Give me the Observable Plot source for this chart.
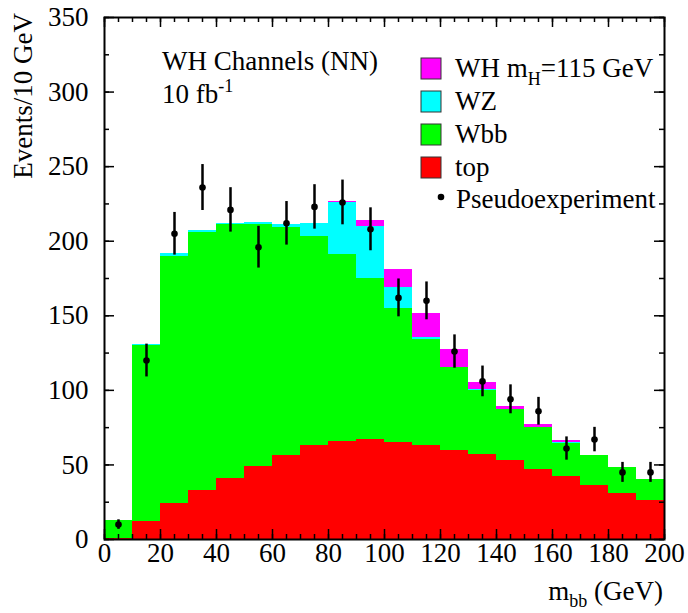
<!DOCTYPE html>
<html><head><meta charset="utf-8">
<script src="https://cdn.jsdelivr.net/npm/d3@7"></script>
<script src="https://cdn.jsdelivr.net/npm/@observablehq/plot@0.6"></script>
<style>
body{margin:0;background:#fff}
#chart{position:relative;width:688px;height:613px}
#chart svg text, #chart svg tspan{font-family:"Liberation Serif","Times New Roman",Times,serif !important;}
</style>
</head><body><div id="chart"></div>
<script>
// ---- data ----
const binLow = [0,10,20,30,40,50,60,70,80,90,100,110,120,130,140,150,160,170,180,190];
const binWidth = 10;
const topQuark = [1,12,24,33,41,49,56,63,66,67,65,63,60,57,53,47,42,36,31,26];
const wbb      = [12,118,166,173,170,162,153,140,125,108,90,71,55,43,34,28,22.5,20,17,14];
const wz       = [0,1,2,1.2,0.9,1.3,2.2,8.9,34.7,34.7,14,1.3,0.3,0.3,0.3,0.3,0.3,0,0,0];
const whSignal = [0,0,0,0,0.1,0,0,0.1,1.1,4.4,12.2,16,12,5,2,1.5,1.3,0.3,0,0];
const pseudo   = [10,120,205,236,221,196,212,223,226,208,162,160,126,106,94,86,61,67,45,45];
const pseudoErr= [3.2,11,14.3,15.4,14.9,14,14.6,14.9,15,14.4,12.7,12.7,11.2,10.3,9.7,9.3,7.8,8.2,6.7,6.7];
const components = ["top","Wbb","WZ","WH"];
const compColors = ["#ff0000","#00ff00","#00ffff","#ff00ff"];
const xTickLabels = [0,20,40,60,80,100,120,140,160,180,200];
const yTickLabels = [0,50,100,150,200,250,300,350];
const xMinor = [0,5,10,15,20,25,30,35,40,45,50,55,60,65,70,75,80,85,90,95,100,105,110,115,120,125,130,135,140,145,150,155,160,165,170,175,180,185,190,195,200];
const yMinor = [0,25,50,75,100,125,150,175,200,225,250,275,300,325,350];

// ---- build tables ----
const series = [topQuark, wbb, wz, whSignal];
const rows = binLow.flatMap((x, i) => components.map((c, j) => ({x1: x, x2: x + binWidth, comp: c, value: series[j][i]})));
const pts = binLow.map((x, i) => ({x: x + binWidth / 2, y: pseudo[i], e: pseudoErr[i]}));

const W = 688, H = 613;
const mL = 104, mR = 24, mT = 17, mB = 74;
const plotW = W - mL - mR, plotH = H - mT - mB;
const FONT = "'Liberation Serif', 'Times New Roman', Times, serif";

const svg = Plot.plot({
  width: W, height: H,
  marginLeft: mL, marginRight: mR, marginTop: mT, marginBottom: mB,
  style: {fontFamily: FONT, color: "black", background: "white"},
  x: {domain: [0, 200]},
  y: {domain: [0, 350]},
  color: {domain: components, range: compColors},
  marks: [
    Plot.rectY(rows, {x1: "x1", x2: "x2", y: "value", fill: "comp", order: components, shapeRendering: "crispEdges"}),
    Plot.ruleX(pts, {x: "x", y1: d => d.y - d.e, y2: d => d.y + d.e, stroke: "black", strokeWidth: 2.5}),
    Plot.dot(pts, {x: "x", y: "y", r: 3.3, fill: "black", stroke: null}),
    // inward ticks
    Plot.ruleX(xMinor, {insetTop: plotH - 5, stroke: "black", strokeWidth: 1.5}),
    Plot.ruleX(xTickLabels, {insetTop: plotH - 10, stroke: "black", strokeWidth: 1.5}),
    Plot.ruleX(xMinor, {insetBottom: plotH - 5, stroke: "black", strokeWidth: 1.5}),
    Plot.ruleX(xTickLabels, {insetBottom: plotH - 10, stroke: "black", strokeWidth: 1.5}),
    Plot.ruleY(yMinor, {insetRight: plotW - 5, stroke: "black", strokeWidth: 1.5}),
    Plot.ruleY(yTickLabels, {insetRight: plotW - 10, stroke: "black", strokeWidth: 1.5}),
    Plot.ruleY(yMinor, {insetLeft: plotW - 5, stroke: "black", strokeWidth: 1.5}),
    Plot.ruleY(yTickLabels, {insetLeft: plotW - 10, stroke: "black", strokeWidth: 1.5}),
    Plot.frame({stroke: "black", strokeWidth: 2}),
    Plot.axisX({ticks: xTickLabels, tickSize: 0, tickPadding: 3, fontSize: 27, label: null, tickFormat: d => String(d)}),
    Plot.axisY({ticks: yTickLabels, tickSize: 0, tickPadding: 16, fontSize: 27, label: null, tickFormat: d => String(d)})
  ]
});

// ---- annotations & legend ----
const g = d3.select(svg).append("g").attr("font-family", FONT).attr("font-size", 27)
  .attr("fill", "black").attr("text-anchor", "start");
g.append("text").attr("x", 162).attr("y", 70).text("WH Channels (NN)");
const lum = g.append("text").attr("x", 162).attr("y", 103).text("10 fb");
lum.append("tspan").attr("font-size", 18).attr("dy", -11).text("-1");

const legendItems = [
  {label: "WH", color: compColors[3]},
  {label: "WZ", color: compColors[2]},
  {label: "Wbb", color: compColors[1]},
  {label: "top", color: compColors[0]}
];
legendItems.forEach((it, i) => {
  const base = 77 + i * 33;
  g.append("rect").attr("x", 421).attr("y", base - 19).attr("width", 20).attr("height", 21)
    .attr("fill", it.color).attr("stroke", "#333").attr("stroke-width", 1);
  const t = g.append("text").attr("x", 455).attr("y", base);
  if (i === 0) {
    t.text("WH m");
    t.append("tspan").attr("font-size", 18).attr("dy", 8).text("H");
    t.append("tspan").attr("dy", -8).text("=115 GeV");
  } else {
    t.text(it.label);
  }
});
g.append("circle").attr("cx", 441).attr("cy", 197).attr("r", 3.3).attr("fill", "black");
g.append("text").attr("x", 456).attr("y", 208).text("Pseudoexperiment");

g.append("text").attr("transform", "translate(32,13) rotate(-90)").attr("text-anchor", "end").text("Events/10 GeV");
const xt = g.append("text").attr("x", 663).attr("y", 600).attr("text-anchor", "end").text("m");
xt.append("tspan").attr("font-size", 18).attr("dy", 7).text("bb");
xt.append("tspan").attr("dy", -7).text(" (GeV)");

document.getElementById("chart").appendChild(svg);
</script>
</body></html>
